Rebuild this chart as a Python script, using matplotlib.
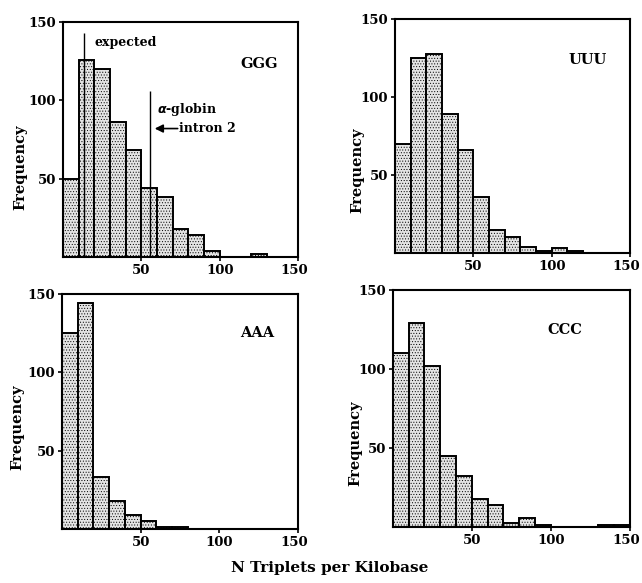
import numpy as np
import matplotlib
matplotlib.use("Agg")
import matplotlib.pyplot as plt
import matplotlib.transforms as mtransforms

# Histogram bins (N triplets per kilobase), width 10
bin_left = np.arange(0, 150, 10)

# Frequencies
ggg = [50, 126, 120, 86, 68, 44, 38, 18, 14, 4, 0, 0, 2, 0, 0]
uuu = [70, 125, 128, 89, 66, 36, 15, 10, 4, 1.5, 3, 1.3, 0, 0, 0]
aaa = [125, 144, 33, 18, 9, 5, 1, 1, 0, 0, 0, 0, 0, 0, 0]
ccc = [110, 129, 102, 45, 32, 17.5, 14, 2.5, 6, 1, 0, 0, 0, 1, 1]

panel_names = ["GGG", "UUU", "AAA", "CCC"]
panel_data = [ggg, uuu, aaa, ccc]

# GGG annotations
expected_x = 13.4
expected_top = 143
globin_x = 55.3
globin_top = 106

plt.rcParams["font.family"] = ["DejaVu Serif"]
plt.rcParams["font.weight"] = "bold"
plt.rcParams["hatch.color"] = "#8a8a8a"
plt.rcParams["hatch.linewidth"] = 0.4

fig = plt.figure(figsize=(6.42, 5.83), dpi=100)

# axes boxes in figure fractions (left, bottom, width, height)
boxes = [
    [0.0981, 0.5592, 0.366, 0.403],
    [0.6153, 0.5660, 0.366, 0.401],
    [0.0966, 0.0926, 0.3676, 0.403],
    [0.6120, 0.0960, 0.369, 0.4065],
]
label_pos = [(125, 123), (123, 124), (124, 125), (109, 125)]
freq_pos = [(0.031, 0.713), (0.556, 0.708), (0.027, 0.268), (0.553, 0.24)]

for i in range(4):
    ax = fig.add_axes(boxes[i])
    ax.bar(bin_left, panel_data[i], width=10, align="edge",
           facecolor="#e4e4e4", edgecolor="black", linewidth=1.4,
           hatch="......")
    ax.set_xlim(0, 150)
    ax.set_ylim(0, 150)
    ax.set_xticks([50, 100, 150])
    ax.set_yticks([50, 100, 150])
    ax.tick_params(labelsize=9.5, length=3, width=1.2, pad=2)
    for lab in ax.get_xticklabels() + ax.get_yticklabels():
        lab.set_fontweight("bold")
    # nudge the last x label inwards so it stays on the page
    shift = mtransforms.ScaledTranslation(-4 / 100, 0, fig.dpi_scale_trans)
    last = ax.get_xticklabels()[-1]
    last.set_transform(last.get_transform() + shift)
    for s in ax.spines.values():
        s.set_linewidth(1.5)
    ax.text(label_pos[i][0], label_pos[i][1], panel_names[i],
            ha="center", va="center", fontsize=10.5, fontweight="bold")
    fig.text(freq_pos[i][0], freq_pos[i][1], "Frequency", rotation=90,
             ha="center", va="center", fontsize=10.5, fontweight="bold")

    if panel_names[i] == "GGG":
        ax.vlines(expected_x, 0, expected_top, color="black", linewidth=1)
        ax.vlines(globin_x, 0, globin_top, color="black", linewidth=1)
        ax.text(20, 137, "expected", ha="left", va="center",
                fontsize=9, fontweight="bold")
        ax.text(60, 94, r"$\alpha$-globin", ha="left", va="center",
                fontsize=9, fontweight="bold")
        ax.text(74, 82, "intron 2", ha="left", va="center",
                fontsize=9, fontweight="bold")
        ax.annotate("", xy=(globin_x + 1.5, 82), xytext=(75, 82),
                    arrowprops=dict(arrowstyle="-|>", color="black",
                                    lw=1.2, mutation_scale=12))

fig.text(0.514, 0.025, "N Triplets per Kilobase", ha="center", va="center",
         fontsize=11, fontweight="bold")

fig.savefig("out.png", dpi=100)
